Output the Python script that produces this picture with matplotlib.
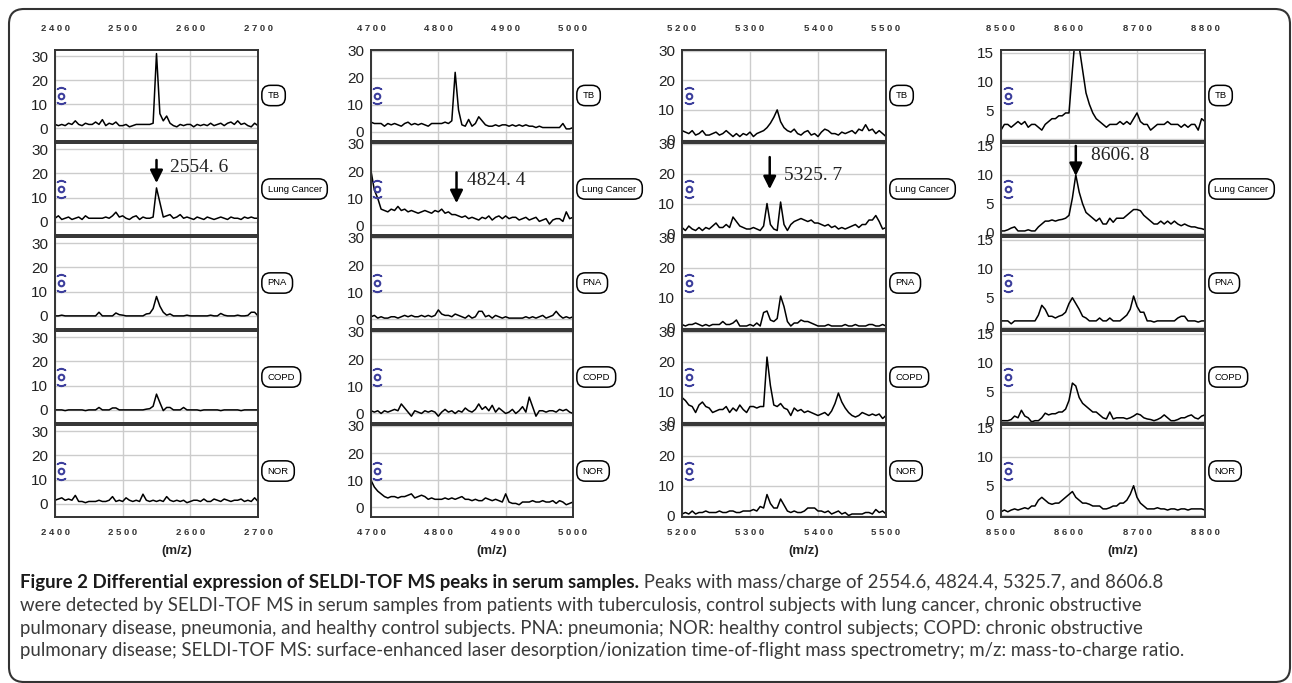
import numpy as np
import matplotlib.pyplot as plt
from matplotlib.patches import FancyBboxPatch

groups = ['TB', 'Lung Cancer', 'PNA', 'COPD', 'NOR']
mz_ranges = [(2400, 2700), (4700, 5000), (5200, 5500), (8500, 8800)]
peak_labels = ['2554. 6', '4824. 4', '5325. 7', '8606. 8']

tb1 = [1.5, 1, 1.5, 1, 2, 1.5, 3, 1.5, 1, 2, 1.5, 1.5, 2.5, 1.5, 3.5, 1, 2, 1.5, 2.5, 1,
       1, 1.5, 0.5, 1, 1.5, 1.5, 1.5, 1.5, 1.5, 2, 31, 6, 3, 5, 2, 1, 0.5, 1.5, 1, 1.5,
       1.5, 0.5, 1.5, 1, 1.5, 1, 2, 1, 1.5, 2, 1, 2, 2.5, 1.5, 3, 1.5, 2, 1, 0.5, 2, 1]
lc1 = [1.5, 2.5, 1, 1.5, 2, 1, 1.5, 2, 1, 2.5, 1.5, 1.5, 1.5, 1.5, 1.5, 2, 1.5, 2.5, 4, 2,
       2.5, 1.5, 1, 2, 2.5, 1, 2, 1.5, 1.5, 2, 14, 8, 2, 2.5, 3, 1.5, 2, 3, 1.5, 2,
       1.5, 1, 2, 1.5, 1, 2, 1.5, 1, 1.5, 2, 1.5, 1, 2, 1.5, 1.5, 1, 2, 1.5, 2, 1.5, 1.5]
pna1 = [0, 0, 0.3, 0, 0, 0, 0, 0, 0, 0, 0, 0, 0, 1.5, 0, 0, 0, 0, 1.2, 0.5,
        0.3, 0, 0, 0, 0, 0, 0, 0.8, 1, 3, 8, 4, 1.5, 0.3, 0.8, 0, 0, 0, 0, 0.3,
        0, 0, 0, 0, 0, 0, 0.3, 0, 0, 1, 0.3, 0, 0, 0, 0.3, 0, 0, 0.2, 1.5, 1.5, 0]
copd1 = [0, 0, 0, -0.3, 0, 0, 0, 0, 0, -0.3, 0, 0, 0, 1, 0, 0, 0, 0.8, 0.8, 0,
         0, 0, 0, 0, 0, 0, 0, 0.3, 0.5, 1.5, 6.5, 3, -0.3, 1, 1, 0, 0, 0, 1, 0,
         0, 0, 0, -0.3, 0, 0, 0, 0, 0, -0.3, 0, 0, 0, 0, 0, -0.3, 0, 0, 0, 0, 0]
nor1 = [1.5, 2, 2.5, 1.5, 2, 1.5, 3.5, 1, 1, 0.5, 1, 1, 1, 1.5, 1, 1, 1.5, 3, 1, 1.5,
        1, 2.5, 1.5, 1, 1.5, 1, 4, 1.5, 1, 1.5, 1, 1.5, 1, 3, 1.5, 1, 1.5, 1, 1.5, 0.5,
        1, 1.5, 1.5, 1, 2, 1, 1, 2, 1.5, 1, 2, 1.5, 1, 1.5, 1.5, 2, 1, 1.5, 1, 2.5, 1]

tb2 = [3.5, 3, 3, 3, 2, 3, 2.5, 3, 2.5, 2, 3, 3.5, 2.5, 3, 2.5, 3, 2.5, 2, 3, 3,
       3, 3, 3.5, 3, 4, 22, 8, 2.5, 2, 4.5, 2, 3, 5.5, 4, 2.5,
       2, 2, 2.5, 2, 2.5, 2.5, 2, 2.5, 2, 2.5, 2, 2.5, 2, 2, 1.5, 2, 1.5, 1.5, 1.5, 1.5,
       1.5, 1.5, 3, 1, 1, 1.5]
lc2 = [20, 13, 10, 6, 5.5, 5, 6, 5.5, 7, 5.5, 6, 5, 5.5, 5, 4.5, 5, 5.5, 5, 4.5, 5.5,
       5, 6, 4.5, 5, 4, 4, 3.5, 3, 3.5, 2.5, 3, 2.5, 2, 3, 2.5, 3.5, 2, 3, 3.5, 2.5,
       3.5, 2.5, 3, 3, 2, 2.5, 3, 2, 2.5, 3, 1.5, 2, 2.5, 0.5, 2, 2.5, 2.5, 1.5, 5, 2.5, 3]
pna2 = [1, 1.5, 0.5, 1, 0.5, 0.5, 1, 1, 0.5, 1, 1.5, 1, 1.5, 1, 1, 1.5, 1, 1.5, 1, 1.5,
        3.5, 2, 1.5, 1.5, 1, 2, 1.5, 1, 0.5, 1.5, 0.5, 1, 3, 3, 1, 1.5, 0.5, 1.5, 1, 0.5,
        1, 0.5, 0.5, 0.5, 0.5, 0.5, 1, 0.5, 1, 0.5, 1, 1.5, 0.5, 1, 1.5, 3, 1.5, 0.5, 1, 0.5, 1]
copd2 = [1, 0.5, 1, 0, 1, 0.5, 1, 1.5, 1, 3.5, 2, 0.5, -1, 1, 0.5, 0, 1, 0.5, 1, 0.5,
         -1, 0.5, 1.5, 0.5, 1, 0, 1, 0.5, 2, 1, 0.5, 1.5, 3.5, 1.5, 2.5, 1, 3, 0.5, 2, 1,
         0, 0.5, 1.5, 0, 1, 2.5, 0.5, 6, 2.5, -1, 1, 1, 0.5, 1, 1, 0.5, 1.5, 1, 1.5, 0.5, 0]
nor2 = [10, 7.5, 6, 5, 4, 3.5, 4, 4, 3.5, 4, 4, 4.5, 5, 3.5, 4, 4.5, 4, 3, 3.5, 3,
        3, 3, 3.5, 3, 3.5, 3, 3.5, 4, 3, 3, 2.5, 3, 2.5, 2.5, 3.5, 3, 2.5, 3, 2.5, 2,
        5, 2, 1.5, 1.5, 1, 2, 2, 2, 2.5, 2, 2, 2.5, 2, 2, 2.5, 1.5, 2.5, 2, 1, 1.5, 2]

tb3 = [3, 2.5, 2, 3, 1.5, 2, 3, 1.5, 1.5, 2, 2.5, 1.5, 2, 3, 2, 1, 2, 1, 2, 1.5,
       2.5, 1, 2, 2.5, 3, 4, 5.5, 7.5, 10, 6, 4, 3, 2.5, 3.5, 2, 1.5, 2.5, 3, 1.5, 2,
       1, 2.5, 3.5, 3, 2, 2, 1.5, 2.5, 2, 2.5, 3, 2, 3.5, 3, 5, 3, 3.5, 2, 3, 2, 1]
lc3 = [2, 1, 2.5, 1.5, 1, 2, 1, 2, 1.5, 2.5, 3.5, 2, 2, 3, 2, 5.5, 4, 2.5, 2, 1.5,
       1.5, 2, 1.5, 1, 2.5, 10, 3, 1.5, 1, 10.5, 3, 1, 3, 4, 4.5, 5, 4.5, 4, 4.5, 3.5,
       3.5, 3, 2.5, 3, 2, 2.5, 1.5, 2, 1.5, 2, 2.5, 3, 2, 3, 3, 4.5, 4.5, 6, 4, 1.5, 2]
pna3 = [1, 0.5, 1, 1, 1.5, 1, 0.5, 1, 0.5, 1, 1, 1, 2, 1, 1, 1.5, 2.5, 0.5, 0.5, 0.5,
        1, 0.5, 1.5, 0.5, 5, 5.5, 2.5, 2, 3, 10.5, 7, 2, 0.5, 1.5, 1.5, 2.5, 2, 2, 1.5, 1,
        0.5, 0.5, 0.5, 1, 0.5, 0.5, 0.5, 0.5, 1, 0.5, 0.5, 1, 0.5, 0.5, 0.5, 1, 1, 0.5, 0.5, 1, 0.5]
copd3 = [8, 7, 5.5, 5, 3, 5.5, 6.5, 5, 4.5, 3, 3.5, 4, 4, 5, 3, 4.5, 3.5, 5.5, 4, 3,
         5, 5, 4.5, 5, 5, 21.5, 12, 5.5, 5, 6, 4.5, 4, 2, 4.5, 3.5, 4, 3, 3.5, 3, 2.5,
         2, 2.5, 3, 2, 3.5, 6, 9.5, 6.5, 4.5, 3, 2, 1.5, 2, 3, 2.5, 2, 2.5, 2, 2.5, 1, 2]
nor3 = [0.5, 1, 0.5, 1.5, 0.5, 1, 1, 1.5, 1, 1, 1, 1.5, 1, 1, 1.5, 1.5, 1, 1, 1.5, 1.5,
        1.5, 2, 1.5, 3, 2.5, 7, 4, 2.5, 2.5, 5.5, 3.5, 1.5, 1, 1.5, 1, 1, 1.5, 2.5, 2.5, 2.5,
        1.5, 1.5, 1, 1.5, 0.5, 1, 1.5, 0.5, 1, 0, 0.5, 0.5, 0.5, 0.5, 1, 1, 0.5, 2, 1, 1.5, 0.5]

tb4 = [1.5, 2.5, 2.5, 2, 2.5, 3, 2.5, 3, 2, 2.5, 2.5, 2, 1.5, 2.5, 3, 3.5, 3.5, 4, 4, 4.5,
       4.5, 12, 19, 16, 12, 8, 6, 4.5, 3.5, 3, 2.5, 2, 2.5, 2.5, 2.5, 3, 2.5, 3, 2.5, 3.5,
       4.5, 3, 2.5, 2.5, 1.5, 2, 2.5, 2.5, 2.5, 3, 2.5, 2.5, 2.5, 2, 2.5, 2, 2.5, 2.5, 1.5, 3.5, 3]
lc4 = [0.3, 0.3, 0.5, 0.8, 1, 0.3, 0.3, 0.3, 0.5, 0.3, 0.3, 1, 1.5, 2, 2, 2.2, 2, 2.2, 2.3, 2.5,
       3, 6, 10, 7, 5, 3.5, 3, 2.5, 2, 2.5, 1.5, 1.5, 2.5, 1.8, 2.5, 2.5, 2.5, 3, 3.5, 4,
       4, 3.8, 3, 2.5, 2, 1.5, 1.5, 2, 1.5, 2, 1.5, 2, 1.5, 1.2, 1.5, 1.2, 1, 1, 0.8, 0.7, 0.5]
pna4 = [1, 1, 1, 0.5, 1, 1, 1, 1, 1, 1, 1, 2, 3.7, 3, 1.8, 1.8, 1.5, 1.8, 2, 2.5,
        4, 5, 4, 3, 1.8, 1.5, 1, 1, 1, 1.5, 1, 1, 1.5, 1, 1, 1, 1.5, 2, 3, 5.3,
        3.5, 2.5, 2.5, 1, 1, 0.8, 1, 1, 1, 1, 1, 1, 1.5, 1.8, 1.8, 1, 1, 1, 0.8, 1, 1]
copd4 = [0, 0, 0, 0.2, 0.8, 0.5, 1.8, 0.8, 0.5, -0.2, 0, 0, 0.5, 1.3, 1, 1.2, 1.2, 1.5, 1.5, 2,
         3.5, 6.5, 6, 4, 3, 2.5, 2, 1.5, 1.5, 1, 0.5, 0.3, 1.5, 0.3, 0.5, 0.5, 0.5, 0.3, 0.5, 0.8,
         1.2, 1, 0.5, 0.3, 0.2, 0, 0.2, 0.5, 1, 0.5, 0, 0, 0.2, 0.5, 0.5, 0.8, 1, 0.5, 0.3, 0.8, 1]
nor4 = [0.5, 0.8, 0.5, 0.8, 1, 0.8, 1, 1.2, 1, 1.5, 1.5, 2.5, 3, 2.5, 2, 1.8, 2, 2, 2.5, 3,
        3.5, 4, 3, 2.5, 2, 2, 1.8, 1.5, 1.5, 1.5, 1, 1, 1.2, 1.5, 1.5, 2, 2, 2.5, 3.5, 5,
        3, 2, 1.5, 1, 1, 1, 1.2, 1, 1, 0.8, 1, 1, 0.8, 1, 1, 0.8, 1, 1, 1, 1, 0.8]

spectra = [[tb1, lc1, pna1, copd1, nor1],
           [tb2, lc2, pna2, copd2, nor2],
           [tb3, lc3, pna3, copd3, nor3],
           [tb4, lc4, pna4, copd4, nor4]]

W, H = 1292, 683
fig = plt.figure(figsize=(12.92, 6.83), dpi=100)

col_px = [(55, 258), (371, 573), (682, 886), (1001, 1205)]
row_px = [(50, 141), (143, 235), (237, 329), (331, 423), (425, 517)]
ylims = [(-5.4, 32.5), (-3.5, 30.3), (-0.5, 30.2), (-0.4, 15.5)]
yticks = [[0, 10, 20, 30], [0, 10, 20, 30], [0, 10, 20, 30], [0, 5, 10, 15]]
# arrow x, arrow top, arrow tip, text x, text y
arrows = [(2550, 25.5, 16.0, 2570, 22.5), (4827, 19.5, 8.2, 4842, 16.6),
          (5329, 25.5, 14.8, 5350, 19.5), (8610, 15.0, 9.8, 8633, 13.4)]

icon_c = '#3d3f9c'
for c, (x0, x1) in enumerate(col_px):
    lo, hi = mz_ranges[c]
    ticks = [lo, lo + 100, lo + 200, lo + 300]
    for r, (y0, y1) in enumerate(row_px):
        ax = fig.add_axes([x0 / W, 1 - y1 / H, (x1 - x0) / W, (y1 - y0) / H])
        y = spectra[c][r]
        ax.plot(np.linspace(lo, hi, len(y)), y, color='black', lw=1.1)
        ax.set_xlim(lo, hi)
        ax.set_ylim(*ylims[c])
        ax.set_xticks(ticks)
        ax.set_xticklabels([' '.join(str(t)) for t in ticks])
        ax.set_yticks(yticks[c])
        ax.grid(True, color='#cccccc', lw=1.0)
        ax.set_axisbelow(True)
        for s in ax.spines.values():
            s.set_color('#333333')
            s.set_linewidth(1.4)
        ax.tick_params(axis='y', length=0, pad=5, labelsize=11, labelcolor='#222222')
        for lab in ax.get_yticklabels():
            lab.set_family('Liberation Sans')
        if r == 0:
            ax.tick_params(axis='x', length=0, top=False, bottom=False,
                           labeltop=True, labelbottom=False, pad=12,
                           labelsize=6.8, labelcolor='#333333')
        elif r == 4:
            ax.tick_params(axis='x', length=0, labelsize=6.8, pad=8,
                           labelcolor='#333333')
        else:
            ax.tick_params(axis='x', length=0, labelbottom=False)
        for lab in ax.get_xticklabels():
            lab.set_fontweight('bold')
            lab.set_family('Liberation Sans')

        # group label
        w = x1 - x0
        ax.text(1 + 9.5 / w, 0.5, groups[r], transform=ax.transAxes, ha='left',
                va='center', fontsize=6.8, family='Liberation Sans',
                bbox=dict(boxstyle='round,pad=0.6,rounding_size=0.9', fc='white',
                          ec='black', lw=1.1))
        # small blue icon
        kw = dict(transform=ax.transAxes, clip_on=False, color=icon_c, ls='none')
        ax.plot([0.032], [0.5], marker='o', ms=4, mfc='none', mew=1.5, **kw)
        ax.plot([0.032], [0.585], marker=r'$\frown$', ms=6, **kw)
        ax.plot([0.032], [0.415], marker=r'$\smile$', ms=6, **kw)

        if r == 1:
            ax_, top, tip, tx, ty = arrows[c]
            ax.annotate('', xy=(ax_, tip), xytext=(ax_, top),
                        arrowprops=dict(arrowstyle='-|>', lw=1.8, color='black',
                                        mutation_scale=19, shrinkA=0, shrinkB=0))
            ax.text(tx, ty, peak_labels[c], fontsize=14, family='Liberation Serif',
                    ha='left', va='center', color='#222222')

    fig.text((x0 + x1) / 2 / W + 20 / W, 1 - 551 / H, '(m/z)', ha='center',
             va='center', fontsize=9.5, fontweight='bold', family='Liberation Sans',
             color='#222222')

# caption
cap_font = 'Lato'
bold = 'Figure 2 Differential expression of SELDI-TOF MS peaks in serum samples.'
line1 = ' Peaks with mass/charge of 2554.6, 4824.4, 5325.7, and 8606.8'
lines = ['were detected by SELDI-TOF MS in serum samples from patients with tuberculosis, '
         'control subjects with lung cancer, chronic obstructive',
         'pulmonary disease, pneumonia, and healthy control subjects. PNA: pneumonia; '
         'NOR: healthy control subjects; COPD: chronic obstructive',
         'pulmonary disease; SELDI-TOF MS: surface-enhanced laser desorption/ionization '
         'time-of-flight mass spectrometry; m/z: mass-to-charge ratio.']
base = [588, 611, 634, 656]
rend = fig.canvas.get_renderer()

# size the caption so its second line spans the same width as in the source
probe = fig.text(0, 0, lines[0], family=cap_font, fontsize=10)
cap_size = 10 * 1125 / probe.get_window_extent(renderer=rend).width
probe.remove()

tb = fig.text(20 / W, 1 - base[0] / H, bold, fontweight='bold', family=cap_font,
              fontsize=cap_size, va='baseline', color='#1a1a1a')
bb = tb.get_window_extent(renderer=rend)
fig.text(bb.x1 / W, 1 - base[0] / H, line1, family=cap_font, fontsize=cap_size,
         va='baseline', color='#3a3a3a')
for i, ln in enumerate(lines):
    fig.text(20 / W, 1 - base[i + 1] / H, ln, family=cap_font, fontsize=cap_size,
             va='baseline', color='#3a3a3a')

# outer rounded frame
frame = FancyBboxPatch((0.09, 0.01), 12.81, 6.73,
                       boxstyle='round,pad=0,rounding_size=0.15',
                       transform=fig.dpi_scale_trans, fill=False, ec='#333333', lw=1.5)
fig.patches.append(frame)

fig.savefig('out.png', dpi=100)
